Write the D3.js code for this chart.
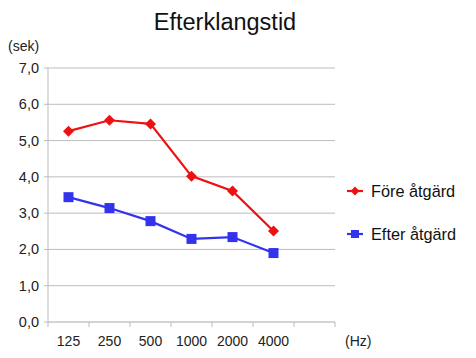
<!DOCTYPE html>
<html><head><meta charset="utf-8">
<script src="https://cdn.jsdelivr.net/npm/d3@7/dist/d3.min.js"></script>
<style>body{margin:0;background:#fff;} text{font-family:"Liberation Sans",Arial,sans-serif;}</style>
</head><body>
<svg id="c" width="476" height="358"></svg>
<script>
const categories = ["125","250","500","1000","2000","4000",""];
const foreValues = [5.26, 5.56, 5.46, 4.02, 3.61, 2.51];
const efterValues = [3.44, 3.14, 2.78, 2.29, 2.34, 1.90];
const yTicks = [0,1,2,3,4,5,6,7];
const seriesNames = ["Före åtgärd","Efter åtgärd"];

const svg = d3.select("#c");
const L=48, R=335, T=68, B=322;
const x = d3.scaleBand().domain(categories.map((d,i)=>i)).range([L,R]);
const y = d3.scaleLinear().domain([0,7]).range([B,T]);

// grid
svg.append("g").selectAll("line").data(yTicks).join("line")
  .attr("x1",L).attr("x2",R).attr("y1",d=>y(d)).attr("y2",d=>y(d))
  .attr("stroke",d=>d===0?"#aaa":"#bdbdbd").attr("stroke-width",1);
svg.append("line").attr("x1",L).attr("x2",L).attr("y1",T).attr("y2",B).attr("stroke","#bbb");
svg.append("g").selectAll("line").data(yTicks).join("line")
  .attr("x1",L-4).attr("x2",L).attr("y1",d=>y(d)).attr("y2",d=>y(d)).attr("stroke","#bbb");
svg.append("g").selectAll("text").data(yTicks).join("text")
  .attr("x",39).attr("y",d=>y(d)+5).attr("text-anchor","end")
  .attr("font-size",14.5).attr("fill","#222").text(d=>d.toFixed(1).replace(".",","));
const bounds = d3.range(categories.length+1).map(i=>L+i*x.bandwidth());
svg.append("g").selectAll("line").data(bounds).join("line")
  .attr("x1",d=>d).attr("x2",d=>d).attr("y1",B).attr("y2",B+5).attr("stroke","#bbb");
svg.append("g").selectAll("text").data(categories).join("text")
  .attr("x",(d,i)=>x(i)+x.bandwidth()/2).attr("y",346).attr("text-anchor","middle")
  .attr("font-size",14).attr("fill","#222").text(d=>d);

svg.append("text").attr("x",8).attr("y",51).attr("font-size",14).attr("fill","#222").text("(sek)");
svg.append("text").attr("x",345).attr("y",346).attr("font-size",14).attr("fill","#222").text("(Hz)");
svg.append("text").attr("x",225).attr("y",30).attr("text-anchor","middle").attr("font-size",23.5).attr("fill","#111").text("Efterklangstid");

const cx = i=>x(i)+x.bandwidth()/2;
const line = d3.line().x((d,i)=>cx(i)).y(d=>y(d));
function marker(g,kind,color){
  if(kind==="diamond") g.append("path").attr("d","M0,-5.5L5.5,0L0,5.5L-5.5,0Z").attr("fill",color);
  else g.append("rect").attr("x",-5).attr("y",-5).attr("width",10).attr("height",10).attr("fill",color);
}
function series(vals,color,kind){
  svg.append("path").datum(vals).attr("d",line).attr("fill","none").attr("stroke",color).attr("stroke-width",2.2);
  vals.forEach((d,i)=>{
    const g=svg.append("g").attr("transform",`translate(${cx(i)},${y(d)})`);
    marker(g,kind,color);
  });
}
series(foreValues,"#ee1111","diamond");
series(efterValues,"#3333ee","square");

const leg=[{n:seriesNames[0],c:"#ee1111",k:"diamond",y:191},{n:seriesNames[1],c:"#3333ee",k:"square",y:234}];
leg.forEach(l=>{
  svg.append("line").attr("x1",347).attr("x2",363).attr("y1",l.y).attr("y2",l.y).attr("stroke",l.c).attr("stroke-width",2.2);
  const g=svg.append("g").attr("transform",`translate(355,${l.y}) scale(0.8)`);
  marker(g,l.k,l.c);
  svg.append("text").attr("x",371).attr("y",l.y+6).attr("font-size",16.3).attr("fill","#111").text(l.n);
});
</script>
</body></html>
